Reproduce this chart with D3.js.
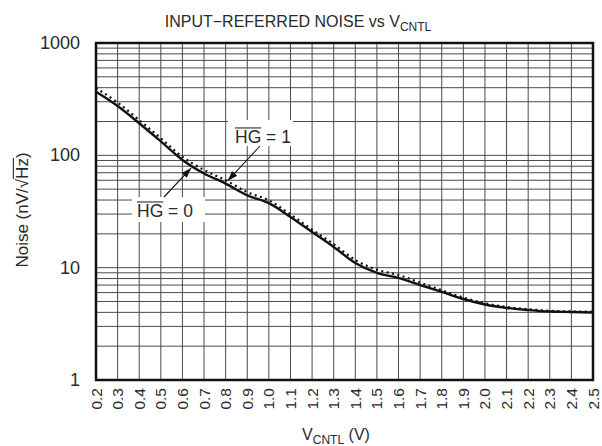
<!DOCTYPE html>
<html>
<head>
<meta charset="utf-8">
<script src="https://cdn.jsdelivr.net/npm/d3@7"></script>
<style>
  body { margin: 0; background: #fff; }
  text { font-family: "Liberation Sans", Arial, sans-serif; fill: #2a2a2a; }
</style>
</head>
<body>
<svg id="chart"></svg>
<script>
// Control voltage (V)
const vcntl = [0.2, 0.3, 0.4, 0.5, 0.6, 0.7, 0.8, 0.9, 1.0, 1.1, 1.2, 1.3,
  1.4, 1.5, 1.6, 1.7, 1.8, 1.9, 2.0, 2.1, 2.2, 2.3, 2.4, 2.5];
// Input-referred noise, nV/rtHz (solid, HG = 0)
const noiseHG0 = [368, 275, 193, 133, 91, 69, 56, 44, 37.5, 28.3, 20.8, 15.3,
  11.0, 8.97, 8.1, 7.0, 6.08, 5.26, 4.70, 4.38, 4.2, 4.07, 4.03, 3.99];
// Input-referred noise, nV/rtHz (dotted, HG = 1)
const noiseHG1 = [398, 295, 206, 142, 97, 74, 60, 47, 39.8, 29.8, 21.8, 16.2,
  11.7, 9.6, 8.6, 7.35, 6.3, 5.42, 4.82, 4.47, 4.27, 4.13, 4.08, 4.05];

const xTickLabels = ["0.2", "0.3", "0.4", "0.5", "0.6", "0.7", "0.8", "0.9", "1.0",
  "1.1", "1.2", "1.3", "1.4", "1.5", "1.6", "1.7", "1.8", "1.9", "2.0", "2.1",
  "2.2", "2.3", "2.4", "2.5"];
const yTickValues = [1, 10, 100, 1000];

const width = 602, height = 446;
const margin = { top: 43, right: 9, bottom: 66, left: 96 };
const plotW = width - margin.left - margin.right;
const plotH = height - margin.top - margin.bottom;

const svg = d3.select("#chart").attr("width", width).attr("height", height);

const x = d3.scaleLinear().domain([0.2, 2.5]).range([margin.left, margin.left + plotW]);
const y = d3.scaleLog().domain([1, 1000]).range([margin.top + plotH, margin.top]);

// grid
const grid = svg.append("g").attr("stroke", "#4a4a4a").attr("stroke-width", 1);
xTickLabels.forEach(t => {
  const v = +t;
  grid.append("line")
    .attr("x1", x(v)).attr("x2", x(v))
    .attr("y1", margin.top).attr("y2", margin.top + plotH);
});
const hLines = [];
[1, 10, 100].forEach(d => {
  for (let m = 1; m <= 9; m++) if (d * m > 1) hLines.push(d * m);
});
hLines.forEach(v => {
  grid.append("line")
    .attr("x1", margin.left).attr("x2", margin.left + plotW)
    .attr("y1", y(v)).attr("y2", y(v));
});

// text helper with overlined parts
function richText(g, px, py, parts, size, anchor) {
  const t = g.append("text").attr("x", px).attr("y", py)
    .attr("font-size", size).attr("text-anchor", anchor || "start");
  parts.forEach(p => t.append("tspan").text(p.t));
  const node = t.node();
  let idx = 0;
  parts.forEach(p => {
    if (p.over) {
      const s = node.getStartPositionOfChar(idx);
      const e = node.getEndPositionOfChar(idx + p.t.length - 1);
      g.append("line")
        .attr("x1", s.x).attr("x2", e.x)
        .attr("y1", py - size * 0.86).attr("y2", py - size * 0.86)
        .attr("stroke", "#2a2a2a").attr("stroke-width", 1.1);
    }
    idx += p.t.length;
  });
  return t;
}

// annotation boxes (white background over grid)
const ann = svg.append("g");
ann.append("rect").attr("x", 228).attr("y", 120).attr("width", 65).attr("height", 26).attr("fill", "#fff");
ann.append("rect").attr("x", 132).attr("y", 197).attr("width", 73).attr("height", 25).attr("fill", "#fff");

// curves
const line = d3.line()
  .x((d, i) => x(vcntl[i]))
  .y(d => y(d))
  .curve(d3.curveMonotoneX);

svg.append("path").datum(noiseHG1)
  .attr("fill", "none").attr("stroke", "#111").attr("stroke-width", 2.2)
  .attr("stroke-dasharray", "2,3.5")
  .attr("d", line);

svg.append("path").datum(noiseHG0)
  .attr("fill", "none").attr("stroke", "#111").attr("stroke-width", 2.4)
  .attr("d", line);

// border
svg.append("rect")
  .attr("x", margin.left).attr("y", margin.top)
  .attr("width", plotW).attr("height", plotH)
  .attr("fill", "none").attr("stroke", "#111").attr("stroke-width", 2.5);

// arrows
svg.append("defs").append("marker")
  .attr("id", "arrow").attr("viewBox", "0 0 10 10")
  .attr("refX", 10).attr("refY", 5)
  .attr("markerWidth", 10).attr("markerHeight", 10)
  .attr("markerUnits", "userSpaceOnUse")
  .attr("orient", "auto")
  .append("path").attr("d", "M0,1.5 L10,5 L0,8.5 Z").attr("fill", "#111");

svg.append("line")
  .attr("x1", 260).attr("y1", 146)
  .attr("x2", x(0.81)).attr("y2", y(59.5))
  .attr("stroke", "#111").attr("stroke-width", 1.1)
  .attr("marker-end", "url(#arrow)");
svg.append("line")
  .attr("x1", 164).attr("y1", 197)
  .attr("x2", x(0.64)).attr("y2", y(77))
  .attr("stroke", "#111").attr("stroke-width", 1.1)
  .attr("marker-end", "url(#arrow)");

richText(ann, 235, 143, [{ t: "HG", over: true }, { t: " = 1" }], 17.5);
richText(ann, 137, 217, [{ t: "HG", over: true }, { t: " = 0" }], 17.5);

// y tick labels
svg.append("g").selectAll("text").data(yTickValues).join("text")
  .attr("x", 80).attr("y", d => y(d) + 6)
  .attr("text-anchor", "end").attr("font-size", 18)
  .text(d => d);

// x tick labels (rotated)
svg.append("g").selectAll("text").data(xTickLabels).join("text")
  .attr("transform", d => `translate(${x(+d) + 5.5},388) rotate(-90)`)
  .attr("text-anchor", "end").attr("font-size", 15.5)
  .text(d => d);

// title
const title = svg.append("text").attr("x", 298).attr("y", 27)
  .attr("text-anchor", "middle").attr("font-size", 16);
title.append("tspan").text("INPUT\u2212REFERRED NOISE vs V");
title.append("tspan").attr("font-size", 12).attr("dy", 4).text("CNTL");

// x axis title
const xt = svg.append("text").attr("x", 336).attr("y", 440)
  .attr("text-anchor", "middle").attr("font-size", 16);
xt.append("tspan").text("V");
xt.append("tspan").attr("font-size", 12).attr("dy", 4).text("CNTL");
xt.append("tspan").attr("dy", -4).text(" (V)");

// y axis title
const yg = svg.append("g").attr("transform", "translate(28,210) rotate(-90)");
richText(yg, 0, 0, [{ t: "Noise (nV/\u221A" }, { t: "Hz", over: true }, { t: ")" }], 17, "middle");
</script>
</body>
</html>
